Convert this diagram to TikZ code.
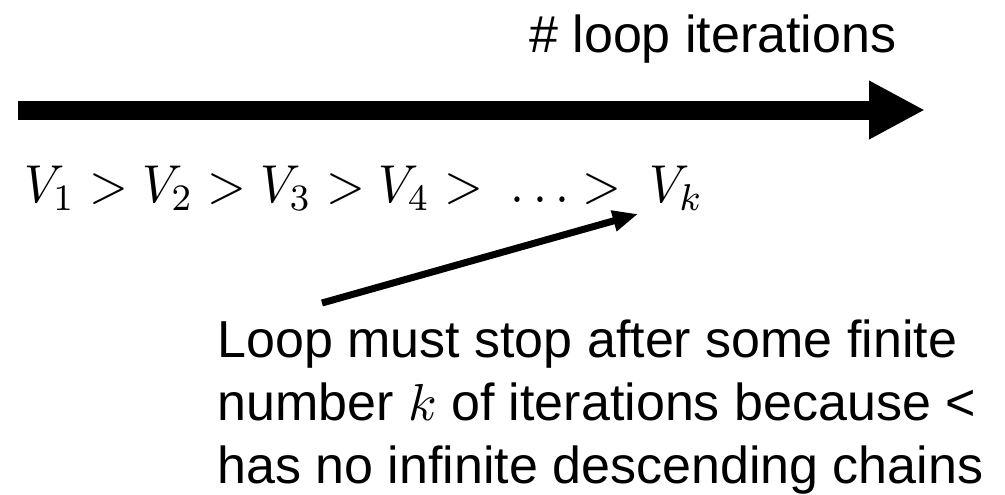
\documentclass[tikz,border=0pt]{standalone}
\usepackage{fontspec}
\setmainfont{Liberation Sans}
\usetikzlibrary{arrows.meta}
\newcommand{\bigmath}[2]{\scalebox{#1}{\fontsize{10}{12}\selectfont$#2$}}
\tikzset{
  bigarr/.style={line width=14.25pt, -{Triangle[length=42pt,width=41pt]}},
  ptr/.style={line width=5.25pt, -{Triangle[length=19pt,width=15pt]}},
  lbl/.style={inner sep=0pt, font=\fontsize{39}{47}\selectfont},
  mrow/.style={inner sep=0pt, font=\fontsize{10}{12}\selectfont, xscale=3.75, yscale=4, transform shape}
}
\begin{document}
\begin{tikzpicture}[x=0.75pt,y=-0.75pt]
\path[use as bounding box] (0,0) rectangle (1005,494);
% time axis
\node[lbl, anchor=base west] (iters) at (529,52) {\# loop iterations};
\coordinate (s) at (18,110);
\coordinate (e) at (925,110);
\draw[bigarr] (s) -- (e);
% decreasing chain
\node[mrow, anchor=base west] (chain) at (23,202) {$V_1 > V_2 > V_3 > V_4 >\ \ldots >\ V_k$};
% remark
\node[lbl, align=left, anchor=north west] (note) at (217,320) {Loop must stop after some finite\\number \bigmath{3.9}{k} of iterations because <\\has no infinite descending chains};
\coordinate (tail) at (322,303);
\coordinate (tip) at (638,214);
\draw[ptr] (tail) -- (tip);
\end{tikzpicture}
\end{document}
